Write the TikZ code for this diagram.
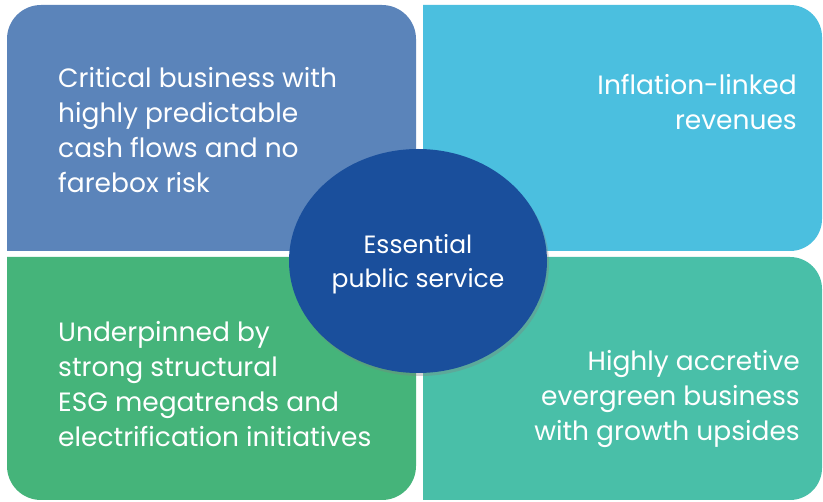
\documentclass[tikz,border=0pt]{standalone}
\usepackage{fontspec}
\setmainfont{Poppins}
\usetikzlibrary{shapes.geometric,shadows}
\definecolor{cTL}{HTML}{5B84BA}
\definecolor{cTR}{HTML}{4BBFDF}
\definecolor{cBL}{HTML}{45B47A}
\definecolor{cBR}{HTML}{49BFA8}
\definecolor{cC}{HTML}{1A4F9C}
\tikzset{
  boxtext/.style={text=white, font=\fontsize{26.5}{35}\selectfont, inner sep=0pt},
  centtext/.style={text=white, font=\fontsize{25}{34}\selectfont, inner sep=0pt},
}
\begin{document}
\begin{tikzpicture}[x=1pt,y=-1pt]
\useasboundingbox[fill=white] (0,0) rectangle (823,502);
% quadrants
\fill[cTL] (416,251) -- (7,251) [rounded corners=34pt] -- (7,5) -- (416,5) [sharp corners] -- cycle;
\fill[cTR] (423,251) -- (423,5) [rounded corners=32pt] -- (822,5) -- (822,251) [sharp corners] -- cycle;
\fill[cBL] (416,257) -- (7,257) [rounded corners=34pt] -- (7,500) -- (416,500) [sharp corners] -- cycle;
\fill[cBR] (423,257) -- (423,500) [rounded corners=32pt] -- (822,500) -- (822,257) [sharp corners] -- cycle;
% texts
\node[boxtext, anchor=west, align=left] (tl) at (58,130) {Critical business with\\highly predictable\\cash flows and no\\farebox risk};
\node[boxtext, anchor=east, align=right] (tr) at (797,102) {Inflation-linked\\revenues};
\node[boxtext, anchor=west, align=left] (bl) at (58,384) {Underpinned by\\strong structural\\ESG megatrends and\\electrification initiatives};
\node[boxtext, anchor=east, align=right] (br) at (800,399) {Highly accretive\\evergreen business\\with growth upsides};
% centre
\node[ellipse, fill=cC, minimum width=258pt, minimum height=224pt, inner sep=0pt,
      drop shadow={opacity=0.35, shadow xshift=2pt, shadow yshift=-3pt}] (c) at (418,261) {};
\node[centtext, align=center] (ct) at ([yshift=-3.5pt]c.center) {Essential\\public service};
\end{tikzpicture}
\end{document}
